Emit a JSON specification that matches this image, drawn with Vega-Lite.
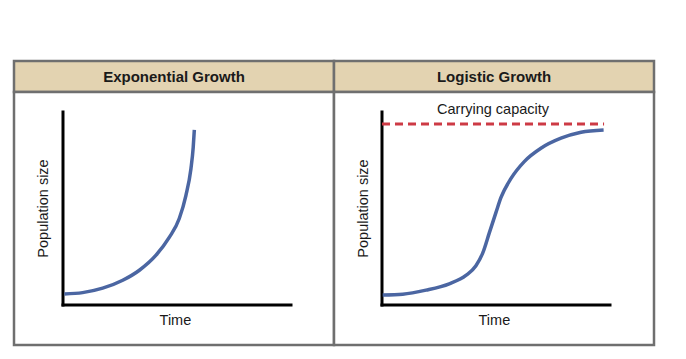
{
  "$schema": "https://vega.github.io/schema/vega-lite/v6.json",
  "background": "white",
  "padding": {"left": 12, "top": 59, "right": 0, "bottom": 0},
  "config": {"font": "Liberation Sans"},
  "bounds": "flush",
  "spacing": 0,
  "columns": 2,
  "datasets": {
    "exponential": [
      {"time": 0.06, "size": 0.057},
      {"time": 0.86, "size": 0.064},
      {"time": 1.74, "size": 0.087},
      {"time": 2.62, "size": 0.128},
      {"time": 3.35, "size": 0.18},
      {"time": 4.08, "size": 0.258},
      {"time": 4.66, "size": 0.35},
      {"time": 5.1, "size": 0.448},
      {"time": 5.39, "size": 0.567},
      {"time": 5.61, "size": 0.705},
      {"time": 5.71, "size": 0.815},
      {"time": 5.76, "size": 0.907}
    ],
    "logistic": [
      {"time": 0.03, "size": 0.052},
      {"time": 0.91, "size": 0.056},
      {"time": 1.93, "size": 0.077},
      {"time": 2.95, "size": 0.11},
      {"time": 3.68, "size": 0.153},
      {"time": 4.12, "size": 0.203},
      {"time": 4.42, "size": 0.27},
      {"time": 4.71, "size": 0.375},
      {"time": 5.0, "size": 0.48},
      {"time": 5.22, "size": 0.557},
      {"time": 5.66, "size": 0.656},
      {"time": 6.24, "size": 0.743},
      {"time": 6.97, "size": 0.812},
      {"time": 7.85, "size": 0.864},
      {"time": 8.73, "size": 0.895},
      {"time": 9.72, "size": 0.907}
    ]
  },
  "concat": [
    {
      "width": 320,
      "height": 31,
      "view": {"fill": "#e3d3b1", "stroke": "#6f6f6f", "strokeWidth": 2.5},
      "data": {"values": [{"title": "Exponential Growth"}]},
      "mark": {"type": "text", "font": "Liberation Sans", "fontSize": 15, "fontWeight": "bold", "color": "#1a1a1a", "baseline": "middle", "align": "center"},
      "encoding": {"text": {"field": "title", "type": "nominal"}}
    },
    {
      "width": 320,
      "height": 31,
      "view": {"fill": "#e3d3b1", "stroke": "#6f6f6f", "strokeWidth": 2.5},
      "data": {"values": [{"title": "Logistic Growth"}]},
      "mark": {"type": "text", "font": "Liberation Sans", "fontSize": 15, "fontWeight": "bold", "color": "#1a1a1a", "baseline": "middle", "align": "center"},
      "encoding": {"text": {"field": "title", "type": "nominal"}}
    },
    {
      "width": 320,
      "height": 253,
      "view": {"fill": "white", "stroke": "#6f6f6f", "strokeWidth": 2.5},
      "data": {"name": "exponential"},
      "encoding": {
        "x": {"type": "quantitative", "scale": {"domain": [-2.149, 11.886], "nice": false, "zero": false}, "axis": null},
        "y": {"type": "quantitative", "scale": {"domain": [-0.2073, 1.1036], "nice": false, "zero": false}, "axis": null}
      },
      "layer": [
        {
          "data": {"values": [{}]},
          "mark": {"type": "rule", "color": "black", "strokeWidth": 3, "strokeCap": "square"},
          "encoding": {"x": {"datum": 0}, "x2": {"datum": 10}, "y": {"datum": 0}}
        },
        {
          "data": {"values": [{}]},
          "mark": {"type": "rule", "color": "black", "strokeWidth": 3, "strokeCap": "square"},
          "encoding": {"x": {"datum": 0}, "y": {"datum": 0}, "y2": {"datum": 1}}
        },
        {
          "mark": {"type": "line", "color": "#4b66a2", "strokeWidth": 3.5, "interpolate": "monotone", "strokeCap": "butt"},
          "encoding": {"x": {"field": "time"}, "y": {"field": "size"}}
        },
        {
          "data": {"values": [{"label": "Time"}]},
          "mark": {"type": "text", "fontSize": 14.5, "color": "#1a1a1a", "align": "center", "baseline": "middle"},
          "encoding": {"x": {"datum": 4.93}, "y": {"datum": -0.083}, "text": {"field": "label"}}
        },
        {
          "data": {"values": [{"label": "Population size"}]},
          "mark": {"type": "text", "fontSize": 14.5, "color": "#1a1a1a", "align": "center", "baseline": "middle", "angle": 270},
          "encoding": {"x": {"datum": -0.83}, "y": {"datum": 0.5}, "text": {"field": "label"}}
        }
      ]
    },
    {
      "width": 320,
      "height": 253,
      "view": {"fill": "white", "stroke": "#6f6f6f", "strokeWidth": 2.5},
      "data": {"name": "logistic"},
      "encoding": {
        "x": {"type": "quantitative", "scale": {"domain": [-2.105, 11.93], "nice": false, "zero": false}, "axis": null},
        "y": {"type": "quantitative", "scale": {"domain": [-0.2073, 1.1036], "nice": false, "zero": false}, "axis": null}
      },
      "layer": [
        {
          "data": {"values": [{}]},
          "mark": {"type": "rule", "color": "black", "strokeWidth": 3, "strokeCap": "square"},
          "encoding": {"x": {"datum": 0}, "x2": {"datum": 10}, "y": {"datum": 0}}
        },
        {
          "data": {"values": [{}]},
          "mark": {"type": "rule", "color": "black", "strokeWidth": 3, "strokeCap": "square"},
          "encoding": {"x": {"datum": 0}, "y": {"datum": 0}, "y2": {"datum": 1}}
        },
        {
          "data": {"values": [{"label": "Carrying capacity"}]},
          "mark": {"type": "rule", "color": "#cd3a45", "strokeWidth": 3, "strokeDash": [8, 5]},
          "encoding": {"x": {"datum": 0}, "x2": {"datum": 9.74}, "y": {"datum": 0.938}}
        },
        {
          "mark": {"type": "line", "color": "#4b66a2", "strokeWidth": 3.5, "interpolate": "monotone", "strokeCap": "butt"},
          "encoding": {"x": {"field": "time"}, "y": {"field": "size"}}
        },
        {
          "data": {"values": [{"label": "Carrying capacity"}]},
          "mark": {"type": "text", "fontSize": 14.5, "color": "#1a1a1a", "align": "center", "baseline": "middle"},
          "encoding": {"x": {"datum": 4.87}, "y": {"datum": 1.01}, "text": {"field": "label"}}
        },
        {
          "data": {"values": [{"label": "Time"}]},
          "mark": {"type": "text", "fontSize": 14.5, "color": "#1a1a1a", "align": "center", "baseline": "middle"},
          "encoding": {"x": {"datum": 4.93}, "y": {"datum": -0.083}, "text": {"field": "label"}}
        },
        {
          "data": {"values": [{"label": "Population size"}]},
          "mark": {"type": "text", "fontSize": 14.5, "color": "#1a1a1a", "align": "center", "baseline": "middle", "angle": 270},
          "encoding": {"x": {"datum": -0.79}, "y": {"datum": 0.5}, "text": {"field": "label"}}
        }
      ]
    }
  ]
}
